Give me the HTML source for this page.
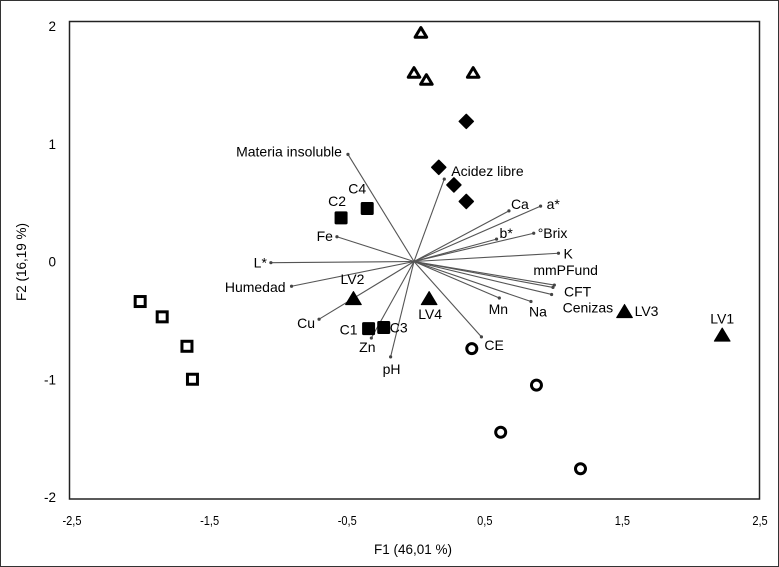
<!DOCTYPE html>
<html><head><meta charset="utf-8"><style>
html,body{margin:0;padding:0;background:#fff}
svg{display:block;font-family:"Liberation Sans",sans-serif}
</style></head><body>
<svg width="779" height="567" viewBox="0 0 779 567">
<rect x="0.5" y="0.5" width="778" height="566" fill="#fff" stroke="#333"/>
<rect x="69.5" y="21.5" width="690" height="477.5" fill="none" stroke="#222" stroke-width="1.5"/>
<g id="ticks"></g><g id="vectors"></g><g id="points"></g>
<text x="413" y="554" text-anchor="middle" font-size="13.5">F1 (46,01 %)</text>
<text transform="translate(26,262) rotate(-90)" text-anchor="middle" font-size="13.5">F2 (16,19 %)</text>
</svg>
<script>
const xTicks=[-2.5,-1.5,-0.5,0.5,1.5,2.5];
const yTicks=[2,1,0,-1,-2];
const varNames=["Materia insoluble","Acidez libre","Ca","a*","b*","°Brix","K","mmPFund","CFT","Cenizas","Mn","Na","CE","pH","Zn","Cu","Humedad","L*","Fe"];
const varX=[-0.48,0.22,0.69,0.92,0.60,0.87,1.05,1.02,1.01,1.00,0.62,0.85,0.49,-0.17,-0.31,-0.69,-0.89,-1.04,-0.56];
const varY=[0.91,0.70,0.43,0.47,0.19,0.24,0.07,-0.20,-0.22,-0.28,-0.31,-0.34,-0.64,-0.81,-0.65,-0.49,-0.21,-0.01,0.21];
const varLblDx=[-6,7,2,6,3,4,5,-21,11,11,-1,7,3,1,-4,-4,-6,-4,-4];
const varLblDy=[2,-3,-2,3,-1,5,5,-10,9,18,16,15,13,17,14,9,6,5,4];
const varAnchor=["end","start","start","start","start","start","start","start","start","start","middle","middle","start","middle","middle","end","end","end","end"];
const grpTriOpenX=[0.05,0.00,0.09,0.43], grpTriOpenY=[1.94,1.60,1.54,1.60];
const grpDiamX=[0.38,0.18,0.29,0.38], grpDiamY=[1.19,0.80,0.65,0.51];
const grpSqFillLbl=["C2","C4","C1","C3"], grpSqFillX=[-0.53,-0.34,-0.33,-0.22], grpSqFillY=[0.37,0.45,-0.57,-0.56];
const grpTriFillLbl=["LV2","LV4","LV3","LV1"], grpTriFillX=[-0.44,0.11,1.53,2.24], grpTriFillY=[-0.31,-0.31,-0.42,-0.62];
const grpSqOpenX=[-1.99,-1.83,-1.65,-1.61], grpSqOpenY=[-0.34,-0.47,-0.72,-1.00];
const grpCircX=[0.42,0.89,0.63,1.21], grpCircY=[-0.74,-1.05,-1.45,-1.76];
const sqLblDx=[-4,-10,-20,15], sqLblDy=[-12,-15,6,5];
const triLblDx=[-1,1,22,0], triLblDy=[-14,21,5,-11];

const NS="http://www.w3.org/2000/svg";
const X0=70,X1=758,XMIN=-2.5,XMAX=2.5,Y0=26,Y1=497,YMAX=2,YMIN=-2;
const sx=v=>X0+(v-XMIN)/(XMAX-XMIN)*(X1-X0);
const sy=v=>Y0+(YMAX-v)/(YMAX-YMIN)*(Y1-Y0);
function mk(tag,attrs,parent){const e=document.createElementNS(NS,tag);for(const k in attrs)e.setAttribute(k,attrs[k]);parent.appendChild(e);return e;}
const gT=document.getElementById('ticks'),gV=document.getElementById('vectors'),gP=document.getElementById('points');
xTicks.forEach(t=>{const e=mk('text',{x:sx(t)+2,y:525,'text-anchor':'middle','font-size':13,transform:`translate(${sx(t)+2},0) scale(0.85,1) translate(${-sx(t)-2},0)`},gT);e.textContent=String(t).replace('.',',');

});
yTicks.forEach(t=>{const e=mk('text',{x:56,y:sy(t)+5,'text-anchor':'end','font-size':13.5},gT);e.textContent=String(t);

});
const ox=sx(0),oy=sy(0);
varNames.forEach((n,i)=>{const ex=sx(varX[i]),ey=sy(varY[i]);
const l=mk('line',{x1:ox,y1:oy,x2:ex,y2:ey,stroke:'#555','stroke-width':1.1},gV);


const d=mk('circle',{cx:ex,cy:ey,r:1.6,fill:'#444'},gV);


const t=mk('text',{x:ex+varLblDx[i],y:ey+varLblDy[i],'text-anchor':varAnchor[i],'font-size':14},gV);t.textContent=n;

});
function tri(cx,cy,s){return `${cx},${cy-s} ${cx+s*1.05},${cy+s*0.75} ${cx-s*1.05},${cy+s*0.75}`;}
grpTriOpenX.forEach((v,i)=>{const p=mk('polygon',{points:tri(sx(v),sy(grpTriOpenY[i]),5.5),fill:'#fff',stroke:'#000','stroke-width':3,'stroke-linejoin':'round'},gP);

});
grpDiamX.forEach((v,i)=>{const cx=sx(v),cy=sy(grpDiamY[i]);const p=mk('polygon',{points:`${cx},${cy-7} ${cx+7},${cy} ${cx},${cy+7} ${cx-7},${cy}`,fill:'#000',stroke:'#000','stroke-width':1.5,'stroke-linejoin':'round'},gP);

});
grpSqFillX.forEach((v,i)=>{const cx=sx(v),cy=sy(grpSqFillY[i]);const r=mk('rect',{x:cx-6.5,y:cy-6.5,width:13,height:13,rx:1.5,fill:'#000'},gP);


const t=mk('text',{x:cx+sqLblDx[i],y:cy+sqLblDy[i],'text-anchor':'middle','font-size':14},gP);t.textContent=grpSqFillLbl[i];

});
grpTriFillX.forEach((v,i)=>{const cx=sx(v),cy=sy(grpTriFillY[i]);const p=mk('polygon',{points:tri(cx,cy+1,7.5),fill:'#000',stroke:'#000','stroke-width':1,'stroke-linejoin':'round'},gP);


const t=mk('text',{x:cx+triLblDx[i],y:cy+triLblDy[i],'text-anchor':'middle','font-size':14},gP);t.textContent=grpTriFillLbl[i];

});
grpSqOpenX.forEach((v,i)=>{const cx=sx(v),cy=sy(grpSqOpenY[i]);const r=mk('rect',{x:cx-5,y:cy-5,width:10,height:10,fill:'#fff',stroke:'#000','stroke-width':3},gP);

});
grpCircX.forEach((v,i)=>{const c=mk('circle',{cx:sx(v),cy:sy(grpCircY[i]),r:5,fill:'#fff',stroke:'#000','stroke-width':3},gP);

});
</script>
</body></html>
